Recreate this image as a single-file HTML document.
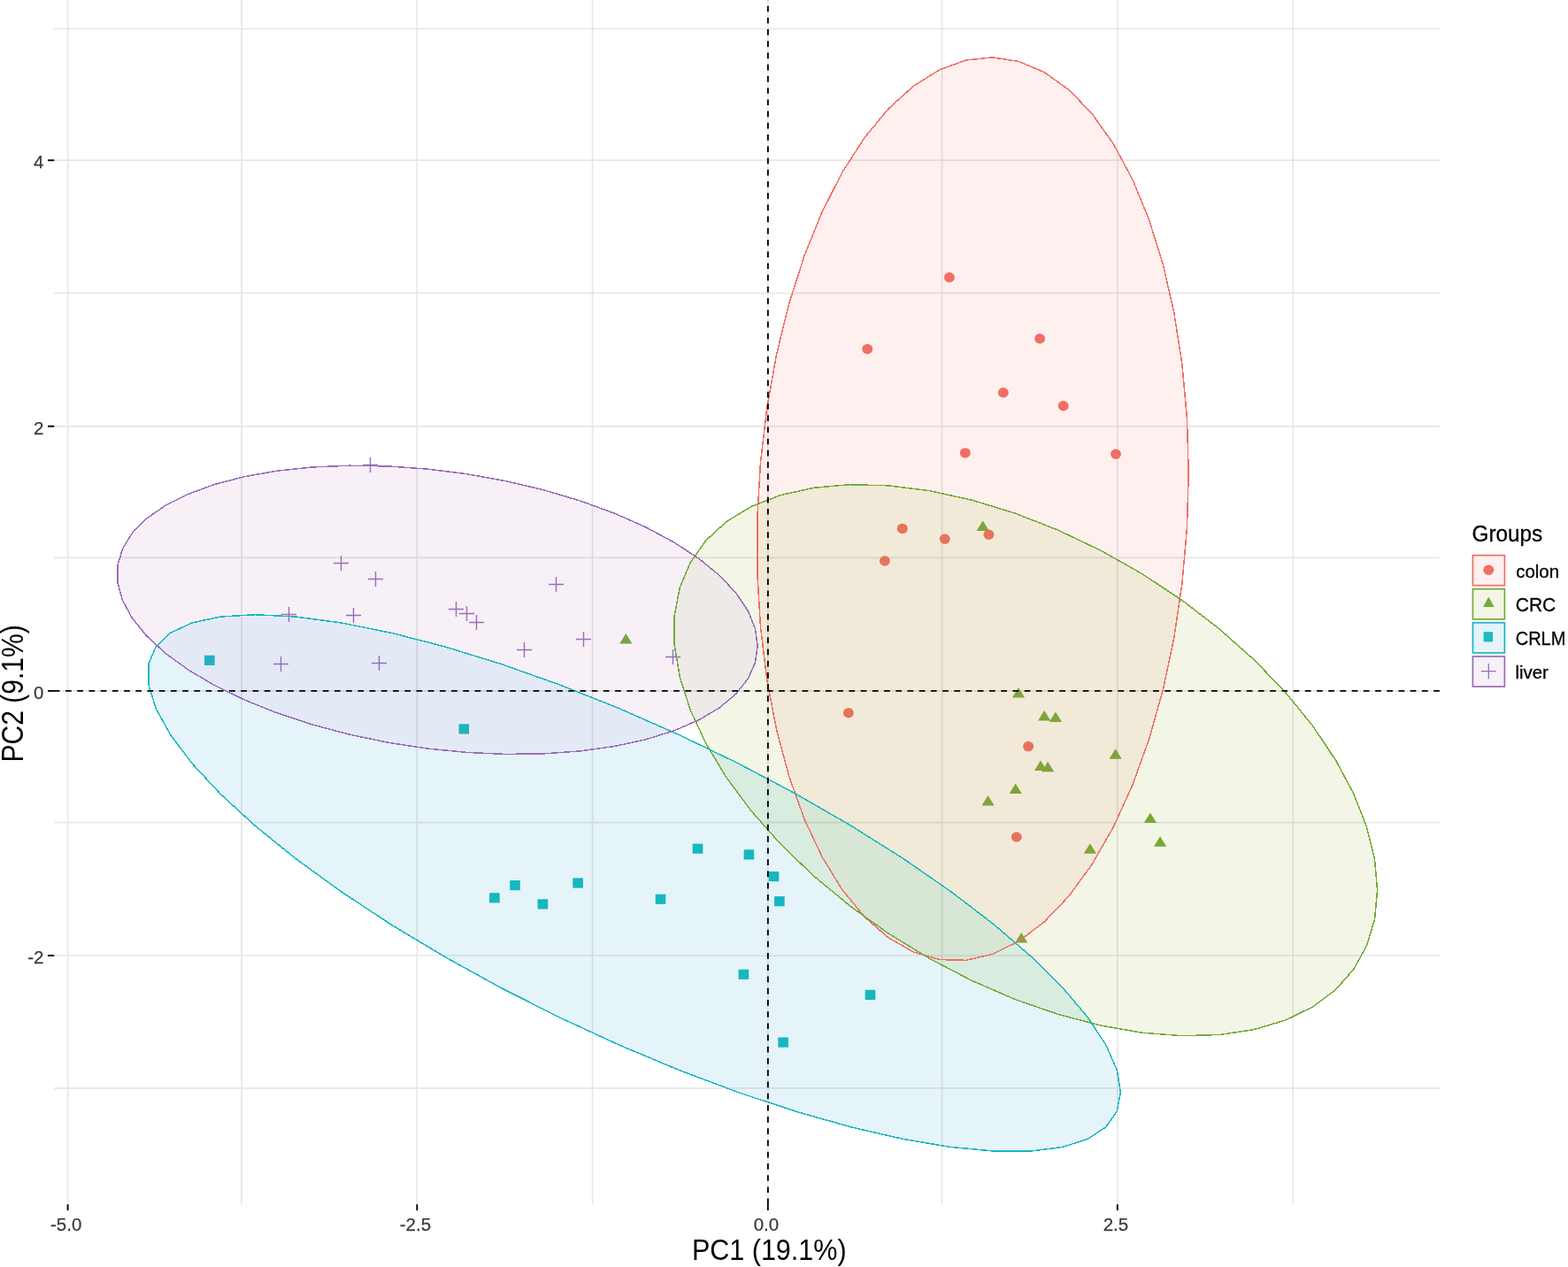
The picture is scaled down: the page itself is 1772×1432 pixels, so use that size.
<!DOCTYPE html>
<html lang="en"><head><meta charset="utf-8"><title>PCA plot</title>
<style>html,body{margin:0;padding:0;background:#fff;}body{width:1772px;height:1432px;overflow:hidden;}svg{display:block;}text{font-family:"Liberation Sans",sans-serif;}.tk{font-size:20.5px;fill:#3a3a3a;stroke:#3a3a3a;stroke-width:0.25px;}.lg{fill:#000;stroke:#000;stroke-width:0.3px;}.grid line{stroke:#e7e7e7;stroke-width:1.7;}.ax line{stroke:#000;stroke-width:1.9;}</style></head><body>
<svg width="1772" height="1432" viewBox="0 0 1772 1432">
<rect x="0" y="0" width="1772" height="1432" fill="#fff"/>
<defs>
<polygon id="eR" points="1343.25,534.39 1341.4,472.16 1335.88,411.5 1326.78,353.32 1314.22,298.51 1298.41,247.89 1279.58,202.24 1258.02,162.25 1234.05,128.52 1208.04,101.57 1180.38,81.8 1151.5,69.51 1121.82,64.89 1091.8,68.01 1061.89,78.82 1032.55,97.15 1004.23,122.74 977.34,155.19 952.3,194.01 929.5,238.61 909.26,288.32 891.91,342.38 877.7,399.97 866.85,460.22 859.52,522.22 855.83,585.02 855.83,647.68 859.52,709.24 866.85,768.78 877.7,825.38 891.91,878.19 909.26,926.42 929.5,969.32 952.3,1006.25 977.34,1036.65 1004.23,1060.06 1032.55,1076.12 1061.89,1084.59 1091.8,1085.34 1121.82,1078.36 1151.5,1063.76 1180.38,1041.76 1208.04,1012.68 1234.05,976.98 1258.02,935.19 1279.58,887.95 1298.41,835.96 1314.22,780.03 1326.78,721 1335.88,659.76 1341.4,597.24"/>
<polygon id="eG" points="1556.56,1006.21 1553.55,971.33 1544.55,934.75 1529.72,897.02 1509.26,858.72 1483.49,820.42 1452.81,782.71 1417.67,746.17 1378.61,711.33 1336.22,678.74 1291.14,648.89 1244.07,622.22 1195.7,599.14 1146.78,580.01 1098.04,565.11 1050.23,554.67 1004.06,548.84 960.25,547.72 919.45,551.32 882.28,559.59 849.3,572.4 821.02,589.56 797.87,610.81 780.19,635.82 768.25,664.22 762.23,695.57 762.23,729.4 768.25,765.2 780.19,802.43 797.87,840.52 821.02,878.89 849.3,916.96 882.28,954.16 919.45,989.92 960.25,1023.69 1004.06,1054.98 1050.23,1083.29 1098.04,1108.21 1146.78,1129.35 1195.7,1146.4 1244.07,1159.1 1291.14,1167.25 1336.22,1170.73 1378.61,1169.48 1417.67,1163.54 1452.81,1152.98 1483.49,1137.97 1509.26,1118.73 1529.72,1095.56 1544.55,1068.8 1553.55,1038.87"/>
<polygon id="eT" points="1266.41,1234.51 1262.24,1209.34 1249.8,1180.96 1229.28,1149.82 1200.99,1116.37 1165.36,1081.13 1122.92,1044.64 1074.32,1007.44 1020.3,970.1 961.68,933.18 899.35,897.25 834.24,862.85 767.35,830.5 699.69,800.69 632.29,773.88 566.16,750.46 502.32,730.8 441.72,715.2 385.3,703.88 333.89,697.02 288.29,694.73 249.18,697.04 217.15,703.91 192.7,715.24 176.19,730.87 167.87,750.54 167.87,773.97 176.19,800.79 192.7,830.61 217.15,862.97 249.18,897.38 288.29,933.31 333.89,970.23 385.3,1007.57 441.73,1044.77 502.32,1081.26 566.16,1116.49 632.29,1149.93 699.69,1181.07 767.35,1209.44 834.24,1234.6 899.35,1256.18 961.68,1273.84 1020.3,1287.33 1074.32,1296.44 1122.92,1301.02 1165.36,1301.01 1200.99,1296.41 1229.28,1287.29 1249.8,1273.79 1262.24,1256.11"/>
<polygon id="eP" points="856.14,730 853.4,710.27 845.21,690.23 831.7,670.17 813.07,650.4 789.61,631.22 761.68,612.93 729.68,595.79 694.12,580.07 655.53,566.01 614.49,553.81 571.63,543.67 527.6,535.74 483.05,530.14 438.68,526.95 395.15,526.22 353.12,527.97 313.23,532.16 276.08,538.73 242.24,547.59 212.22,558.59 186.47,571.58 165.39,586.35 149.29,602.69 138.42,620.34 132.95,639.03 132.95,658.49 138.42,678.41 149.29,698.5 165.39,718.45 186.47,737.96 212.22,756.73 242.24,774.48 276.08,790.94 313.23,805.86 353.12,819.02 395.15,830.2 438.68,839.26 483.05,846.04 527.6,850.44 571.63,852.4 614.49,851.89 655.53,848.92 694.12,843.53 729.68,835.8 761.68,825.85 789.61,813.83 813.07,799.92 831.7,784.34 845.21,767.32 853.4,749.11"/>
<clipPath id="cR"><use href="#eR"/></clipPath>
<clipPath id="cG"><use href="#eG"/></clipPath>
<clipPath id="cP"><use href="#eP"/></clipPath>
<clipPath id="cRG" clip-path="url(#cR)"><use href="#eG"/></clipPath>
</defs>
<g shape-rendering="crispEdges">
<use href="#eR" fill="#fef0ee"/>
<use href="#eG" fill="#f3f6e6"/>
<use href="#eT" fill="#e5f4f9"/>
<use href="#eP" fill="#f7f0f7"/>
<use href="#eG" fill="#f1ead9" clip-path="url(#cR)"/>
<use href="#eT" fill="#d9ece0" clip-path="url(#cG)"/>
<use href="#eG" fill="#eeeae7" clip-path="url(#cP)"/>
<use href="#eT" fill="#e3eaf6" clip-path="url(#cP)"/>
<use href="#eT" fill="#e5e6ea" clip-path="url(#cR)"/>
<use href="#eT" fill="#d7e6d5" clip-path="url(#cRG)"/>
</g>
<g class="grid" style="mix-blend-mode:multiply">
<line x1="61" y1="32.5" x2="1627" y2="32.5"/>
<line x1="61" y1="181.2" x2="1627" y2="181.2"/>
<line x1="61" y1="331.4" x2="1627" y2="331.4"/>
<line x1="61" y1="481.8" x2="1627" y2="481.8"/>
<line x1="61" y1="630.3" x2="1627" y2="630.3"/>
<line x1="61" y1="780.9" x2="1627" y2="780.9"/>
<line x1="61" y1="929.6" x2="1627" y2="929.6"/>
<line x1="61" y1="1080" x2="1627" y2="1080"/>
<line x1="61" y1="1229.9" x2="1627" y2="1229.9"/>
<line x1="76.6" y1="0" x2="76.6" y2="1361.2"/>
<line x1="273" y1="0" x2="273" y2="1361.2"/>
<line x1="471.3" y1="0" x2="471.3" y2="1361.2"/>
<line x1="669.6" y1="0" x2="669.6" y2="1361.2"/>
<line x1="867.8" y1="0" x2="867.8" y2="1361.2"/>
<line x1="1064.6" y1="0" x2="1064.6" y2="1361.2"/>
<line x1="1262.8" y1="0" x2="1262.8" y2="1361.2"/>
<line x1="1461.3" y1="0" x2="1461.3" y2="1361.2"/>
</g>
<ellipse cx="1072.9" cy="313.5" rx="5.95" ry="5.75" fill="#f06e64"/>
<ellipse cx="980.2" cy="394.4" rx="5.95" ry="5.75" fill="#f06e64"/>
<ellipse cx="1175.1" cy="382.8" rx="5.95" ry="5.75" fill="#f06e64"/>
<ellipse cx="1133.8" cy="443.8" rx="5.95" ry="5.75" fill="#f06e64"/>
<ellipse cx="1201.7" cy="458.8" rx="5.95" ry="5.75" fill="#f06e64"/>
<ellipse cx="1090.8" cy="511.9" rx="5.95" ry="5.75" fill="#f06e64"/>
<ellipse cx="1261" cy="513.3" rx="5.95" ry="5.75" fill="#f06e64"/>
<ellipse cx="1019.8" cy="597.4" rx="5.95" ry="5.75" fill="#e5745b"/>
<ellipse cx="1067.8" cy="609.2" rx="5.95" ry="5.75" fill="#e5745b"/>
<ellipse cx="1117.4" cy="604.3" rx="5.95" ry="5.75" fill="#e5745b"/>
<ellipse cx="999.9" cy="634" rx="5.95" ry="5.75" fill="#e5745b"/>
<ellipse cx="958.8" cy="805.7" rx="5.95" ry="5.75" fill="#e5745b"/>
<ellipse cx="1162.1" cy="843.6" rx="5.95" ry="5.75" fill="#e5745b"/>
<ellipse cx="1148.8" cy="946" rx="5.95" ry="5.75" fill="#e5745b"/>
<polygon points="1110.7,588.4 1103.6,599.9 1117.8,599.9" fill="#7fa43a"/>
<polygon points="707.3,716 700.2,727.5 714.4,727.5" fill="#77a448"/>
<polygon points="1151,776.9 1143.9,788.4 1158.1,788.4" fill="#7fa43a"/>
<polygon points="1180.2,803 1173.1,814.5 1187.3,814.5" fill="#7fa43a"/>
<polygon points="1192.9,804.4 1185.8,815.9 1200,815.9" fill="#7fa43a"/>
<polygon points="1260.6,846.2 1253.5,857.7 1267.7,857.7" fill="#7fa43a"/>
<polygon points="1176,859.4 1168.9,870.9 1183.1,870.9" fill="#7fa43a"/>
<polygon points="1184.1,860.7 1177,872.2 1191.2,872.2" fill="#7fa43a"/>
<polygon points="1147.7,885.6 1140.6,897.1 1154.8,897.1" fill="#7fa43a"/>
<polygon points="1116.6,898.9 1109.5,910.4 1123.7,910.4" fill="#7fa43a"/>
<polygon points="1299.9,918.6 1292.8,930.1 1307,930.1" fill="#73aa37"/>
<polygon points="1311.1,945.2 1304,956.7 1318.2,956.7" fill="#73aa37"/>
<polygon points="1231.9,953.3 1224.8,964.8 1239,964.8" fill="#7fa43a"/>
<polygon points="1154.2,1053.9 1147.1,1065.4 1161.3,1065.4" fill="#7fa43a"/>
<rect x="231" y="740.7" width="11.6" height="11.2" fill="#26afbf"/>
<rect x="518.5" y="818.3" width="11.6" height="11.2" fill="#26afbf"/>
<rect x="553.1" y="1009.2" width="11.6" height="11.2" fill="#16b7c1"/>
<rect x="576.2" y="995" width="11.6" height="11.2" fill="#16b7c1"/>
<rect x="607.6" y="1016.3" width="11.6" height="11.2" fill="#16b7c1"/>
<rect x="647.3" y="992.4" width="11.6" height="11.2" fill="#16b7c1"/>
<rect x="740.7" y="1010.7" width="11.6" height="11.2" fill="#16b7c1"/>
<rect x="782.7" y="953.6" width="11.6" height="11.2" fill="#16b7c1"/>
<rect x="840.6" y="960.3" width="11.6" height="11.2" fill="#16b7c1"/>
<rect x="868.7" y="985" width="11.6" height="11.2" fill="#16b7c1"/>
<rect x="875.1" y="1013.1" width="11.6" height="11.2" fill="#16b7c1"/>
<rect x="834.6" y="1095.7" width="11.6" height="11.2" fill="#16b7c1"/>
<rect x="977.7" y="1118.8" width="11.6" height="11.2" fill="#16b7c1"/>
<rect x="879.3" y="1172.5" width="11.6" height="11.2" fill="#16b7c1"/>
<path d="M410 525.5H427M418.5 516.9V534.1" stroke="#986cbb" stroke-width="1.4" fill="none"/>
<path d="M377 636.5H394M385.5 627.9V645.1" stroke="#9a6cba" stroke-width="1.4" fill="none"/>
<path d="M416 654.5H433M424.5 645.9V663.1" stroke="#9a6cba" stroke-width="1.4" fill="none"/>
<path d="M318 694.5H335M326.5 685.9V703.1" stroke="#9a6cba" stroke-width="1.4" fill="none"/>
<path d="M391 695.5H408M399.5 686.9V704.1" stroke="#9a6cba" stroke-width="1.4" fill="none"/>
<path d="M507 688.5H524M515.5 679.9V697.1" stroke="#9a6cba" stroke-width="1.4" fill="none"/>
<path d="M519 693.5H536M527.5 684.9V702.1" stroke="#9a6cba" stroke-width="1.4" fill="none"/>
<path d="M530 703.5H547M538.5 694.9V712.1" stroke="#9a6cba" stroke-width="1.4" fill="none"/>
<path d="M309 750.5H326M317.5 741.9V759.1" stroke="#8d6fbb" stroke-width="1.4" fill="none"/>
<path d="M420 749.5H437M428.5 740.9V758.1" stroke="#8d6fbb" stroke-width="1.4" fill="none"/>
<path d="M620 660.5H637M628.5 651.9V669.1" stroke="#9a6cba" stroke-width="1.4" fill="none"/>
<path d="M651 722.5H668M659.5 713.9V731.1" stroke="#9a6cba" stroke-width="1.4" fill="none"/>
<path d="M584 734.5H601M592.5 725.9V743.1" stroke="#9a6cba" stroke-width="1.4" fill="none"/>
<path d="M752 742.5H769M760.5 733.9V751.1" stroke="#9a6cba" stroke-width="1.4" fill="none"/>
<g fill="none" stroke-width="1.5" stroke-linejoin="round" shape-rendering="crispEdges">
<use href="#eR" stroke="#F06E64"/>
<use href="#eG" stroke="#74AA38"/>
<use href="#eT" stroke="#17B7C1"/>
<use href="#eP" stroke="#9A6CBA"/>
</g>
<g stroke="#000" stroke-width="1.9" stroke-dasharray="6.7 6.515" fill="none">
<line x1="60.8" y1="780.9" x2="1627" y2="780.9"/>
<line x1="867.85" y1="1361.3" x2="867.85" y2="0"/>
</g>
<g class="ax">
<line x1="54" y1="181.2" x2="61.2" y2="181.2"/>
<line x1="54" y1="481.8" x2="61.2" y2="481.8"/>
<line x1="54" y1="780.9" x2="61.2" y2="780.9"/>
<line x1="54" y1="1080" x2="61.2" y2="1080"/>
<line x1="76.6" y1="1361.2" x2="76.6" y2="1368"/>
<line x1="471.3" y1="1361.2" x2="471.3" y2="1368"/>
<line x1="867.8" y1="1361.2" x2="867.8" y2="1368"/>
<line x1="1262.8" y1="1361.2" x2="1262.8" y2="1368"/>
</g>
<text class="tk" transform="translate(49.5 190.2) scale(1 1)" text-anchor="end">4</text>
<text class="tk" transform="translate(49.5 490.8) scale(1 1)" text-anchor="end">2</text>
<text class="tk" transform="translate(49.5 789.9) scale(1 1)" text-anchor="end">0</text>
<text class="tk" transform="translate(49.5 1089) scale(1 1)" text-anchor="end">-2</text>
<text class="tk" transform="translate(74.7 1391.3) scale(1 1)" text-anchor="middle">-5.0</text>
<text class="tk" transform="translate(469.4 1391.3) scale(1 1)" text-anchor="middle">-2.5</text>
<text class="tk" transform="translate(865.9 1391.3) scale(1 1)" text-anchor="middle">0.0</text>
<text class="tk" transform="translate(1260.9 1391.3) scale(1 1)" text-anchor="middle">2.5</text>
<text x="781.9" y="1424.1" font-size="32.4" fill="#000" textLength="174.7" lengthAdjust="spacingAndGlyphs">PC1 (19.1%)</text>
<text transform="translate(25.9 861.6) rotate(-90)" x="0" y="0" font-size="34.9" fill="#000" textLength="155.3" lengthAdjust="spacingAndGlyphs">PC2 (9.1%)</text>
<text x="1663.6" y="612.0" font-size="26.4" fill="#000" stroke="#000" stroke-width="0.3" textLength="79.6" lengthAdjust="spacingAndGlyphs">Groups</text>
<rect x="1664.4" y="627.6" width="36" height="34.1" fill="rgba(245,105,85,0.1)" stroke="#F06E64" stroke-width="1.7"/>
<ellipse cx="1682.3" cy="644.3" rx="5.95" ry="5.75" fill="#ef6f66"/>
<text class="lg" x="1713.2" y="652.9" font-size="20.6" textLength="48.8" lengthAdjust="spacingAndGlyphs">colon</text>
<rect x="1664.4" y="665.7" width="36" height="34.1" fill="rgba(135,165,5,0.1)" stroke="#74AA38" stroke-width="1.7"/>
<polygon points="1682.3,674.6 1676,686.1 1688.6,686.1" fill="#71ab3d"/>
<text class="lg" x="1712.7" y="691" font-size="21.9" textLength="45.6" lengthAdjust="spacingAndGlyphs">CRC</text>
<rect x="1664.4" y="703.8" width="36" height="34.1" fill="rgba(0,145,195,0.1)" stroke="#17B7C1" stroke-width="1.7"/>
<rect x="1676.6" y="714.2" width="10.4" height="11.2" fill="#19bbc1"/>
<text class="lg" x="1712.7" y="729.1" font-size="21.9" textLength="56.7" lengthAdjust="spacingAndGlyphs">CRLM</text>
<rect x="1664.4" y="741.9" width="36" height="34.1" fill="rgba(175,105,175,0.1)" stroke="#9A6CBA" stroke-width="1.7"/>
<path d="M1673.8 758.6H1690.8M1682.3 750V767.2" stroke="#986cbb" stroke-width="1.3" fill="none"/>
<text class="lg" x="1712.5" y="767.2" font-size="20.1" textLength="37.2" lengthAdjust="spacingAndGlyphs">liver</text>
</svg></body></html>
